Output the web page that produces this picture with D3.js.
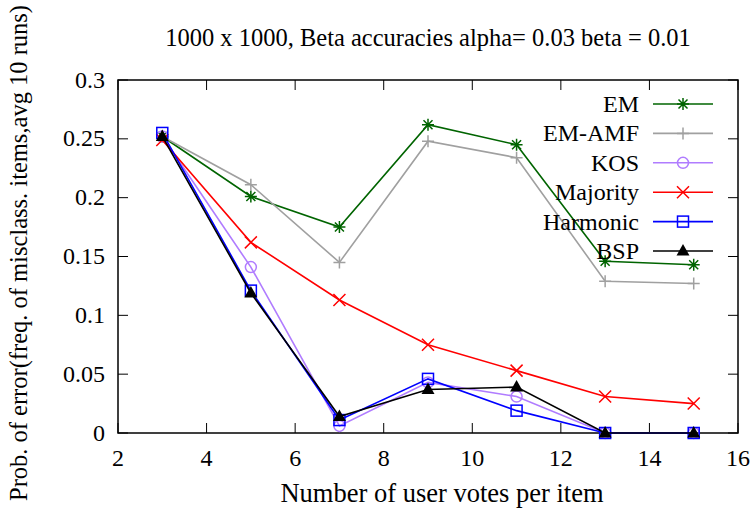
<!DOCTYPE html>
<html><head><meta charset="utf-8">
<script src="https://cdn.jsdelivr.net/npm/d3@7"></script>
<style>body{margin:0;background:#fff;}</style>
</head><body>
<svg id="c" width="754" height="512"></svg>
<script>
const xValues = [3, 5, 7, 9, 11, 13, 15];
const seriesNames = ["EM", "EM-AMF", "KOS", "Majority", "Harmonic", "BSP"];
const emValues = [0.252, 0.201, 0.175, 0.262, 0.245, 0.146, 0.143];
const emAmfValues = [0.252, 0.211, 0.145, 0.248, 0.234, 0.129, 0.127];
const kosValues = [0.252, 0.141, 0.006, 0.043, 0.031, 0.0, 0.0];
const majorityValues = [0.249, 0.162, 0.113, 0.075, 0.053, 0.031, 0.025];
const harmonicValues = [0.255, 0.121, 0.011, 0.046, 0.019, 0.0, 0.0];
const bspValues = [0.252, 0.119, 0.014, 0.037, 0.039, 0.0, 0.0];
const xTicks = [2, 4, 6, 8, 10, 12, 14, 16];
const yTicks = [0, 0.05, 0.1, 0.15, 0.2, 0.25, 0.3];
const colors = ["#006400", "#a0a0a0", "#b07cff", "#ff0000", "#0000ff", "#000000"];
const symbols = ["star", "plus", "circle", "cross", "square", "triangle"];

const series = seriesNames.map((n, i) => ({name: n, values: [emValues, emAmfValues, kosValues, majorityValues, harmonicValues, bspValues][i], color: colors[i], sym: symbols[i]}));

const svg = d3.select("#c");
const L = 118, R = 738, T = 80, B = 433;
const x = d3.scaleLinear().domain([2, 16]).range([L, R]);
const y = d3.scaleLinear().domain([0, 0.3]).range([B, T]);

function txt(px, py, s, anchor, size) {
  return svg.append("text").attr("x", px).attr("y", py).attr("text-anchor", anchor)
    .style("font-family", "'Liberation Serif'").style("font-size", size + "px").text(s);
}

svg.append("rect").attr("x", L).attr("y", T).attr("width", R - L).attr("height", B - T)
  .attr("fill", "none").attr("stroke", "#000").attr("stroke-width", 1.5);

const tl = 10;
xTicks.forEach(t => {
  svg.append("line").attr("x1", x(t)).attr("x2", x(t)).attr("y1", B).attr("y2", B - tl).attr("stroke", "#000");
  svg.append("line").attr("x1", x(t)).attr("x2", x(t)).attr("y1", T).attr("y2", T + tl).attr("stroke", "#000");
  txt(x(t), 466, t, "middle", 24);
});
yTicks.forEach(t => {
  svg.append("line").attr("x1", L).attr("x2", L + tl).attr("y1", y(t)).attr("y2", y(t)).attr("stroke", "#000");
  svg.append("line").attr("x1", R).attr("x2", R - tl).attr("y1", y(t)).attr("y2", y(t)).attr("stroke", "#000");
  txt(105, y(t) + 7.5, String(t), "end", 24);
});

txt(428, 46, "1000 x 1000, Beta accuracies alpha= 0.03 beta = 0.01", "middle", 24.5);
txt(442, 502, "Number of user votes per item", "middle", 26.5);
txt(0, 0, "Prob. of error(freq. of misclass. items,avg 10 runs)", "middle", 24.5).attr("transform", "translate(27,253) rotate(-90)");

function drawSym(g, sym, cx, cy, color) {
  const s = 6;
  if (sym === "star") {
    g.append("path").attr("d", `M${cx - s},${cy}H${cx + s}M${cx},${cy - s}V${cy + s}M${cx - s * 0.75},${cy - s * 0.75}L${cx + s * 0.75},${cy + s * 0.75}M${cx - s * 0.75},${cy + s * 0.75}L${cx + s * 0.75},${cy - s * 0.75}`)
      .attr("stroke", color).attr("stroke-width", 1.5).attr("fill", "none");
  } else if (sym === "plus") {
    g.append("path").attr("d", `M${cx - s},${cy}H${cx + s}M${cx},${cy - s}V${cy + s}`)
      .attr("stroke", color).attr("stroke-width", 1.5).attr("fill", "none");
  } else if (sym === "circle") {
    g.append("circle").attr("cx", cx).attr("cy", cy).attr("r", 5.5).attr("stroke", color).attr("stroke-width", 1.5).attr("fill", "none");
  } else if (sym === "cross") {
    g.append("path").attr("d", `M${cx - s},${cy - s}L${cx + s},${cy + s}M${cx - s},${cy + s}L${cx + s},${cy - s}`)
      .attr("stroke", color).attr("stroke-width", 1.5).attr("fill", "none");
  } else if (sym === "square") {
    g.append("rect").attr("x", cx - 5.5).attr("y", cy - 5.5).attr("width", 11).attr("height", 11).attr("stroke", color).attr("stroke-width", 1.5).attr("fill", "none");
  } else if (sym === "triangle") {
    g.append("path").attr("d", `M${cx},${cy - 7}L${cx + 6.5},${cy + 4.5}L${cx - 6.5},${cy + 4.5}Z`).attr("fill", color);
  }
}

const line = d3.line().x((d, i) => x(xValues[i])).y(d => y(d));
series.forEach(s => {
  const g = svg.append("g");
  g.append("path").attr("d", line(s.values)).attr("fill", "none").attr("stroke", s.color).attr("stroke-width", 1.6);
  s.values.forEach((v, i) => drawSym(g, s.sym, x(xValues[i]), y(v), s.color));
});

series.forEach((s, i) => {
  const ly = 104 + i * 29.4;
  txt(639, ly + 8, s.name, "end", 24);
  svg.append("line").attr("x1", 653).attr("x2", 713).attr("y1", ly).attr("y2", ly).attr("stroke", s.color).attr("stroke-width", 1.6);
  drawSym(svg, s.sym, 683, ly, s.color);
});
</script>
</body></html>
